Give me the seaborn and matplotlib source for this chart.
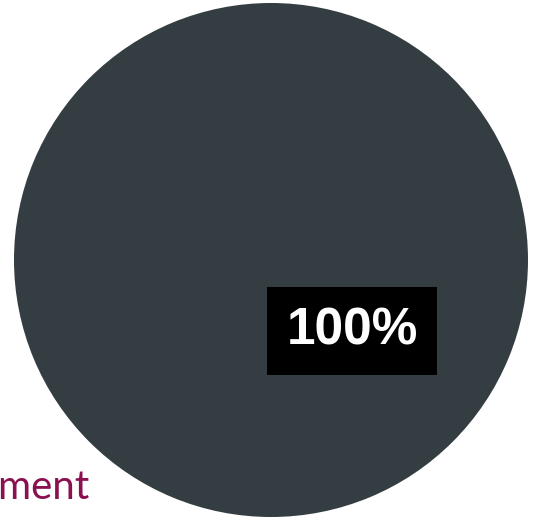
import matplotlib
matplotlib.use("Agg")
import matplotlib.pyplot as plt
import seaborn as sns

# data
segments = ["Segment"]
shares = [100]
colors = ["#343d41"]
labels = ["100%"]

sns.set_theme(style="white")

fig = plt.figure(figsize=(5.38, 5.19), dpi=100)
ax = fig.add_axes([0, 0, 1, 1])

wedges, _ = ax.pie(shares, colors=colors, center=(271, 260), radius=257,
                   startangle=90, frame=True,
                   wedgeprops=dict(linewidth=0, antialiased=True))
ax.set_xlim(0, 538)
ax.set_ylim(519, 0)
ax.axis("off")

ax.text(352, 331, labels[0], ha="center", va="center", color="white",
        fontsize=37, fontweight="bold", family=["Liberation Sans", "DejaVu Sans"],
        bbox=dict(boxstyle="square,pad=0.38", facecolor="black", edgecolor="none"))

# legend label, cut off at the left edge as in the original
ax.text(90, 499, segments[0], ha="right", va="baseline", color="#8a1050",
        fontsize=29, family=["Lato", "DejaVu Sans"])

fig.savefig("out.png", dpi=100)
